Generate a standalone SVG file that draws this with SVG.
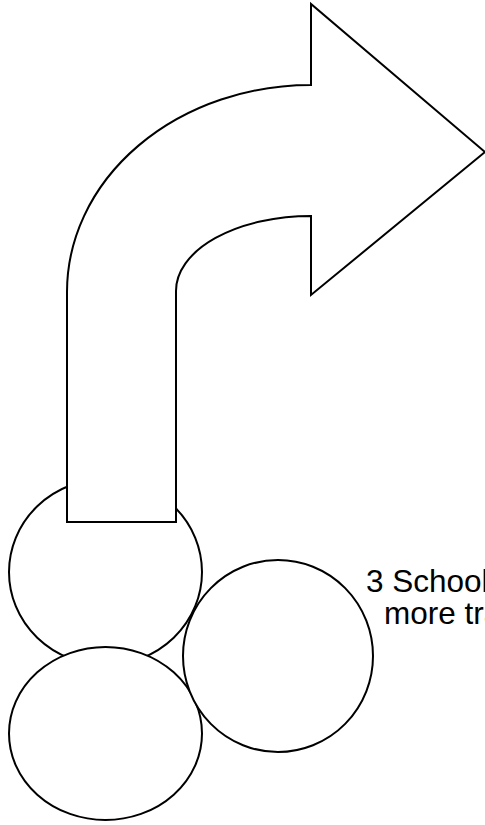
<svg xmlns="http://www.w3.org/2000/svg" width="485" height="825" viewBox="0 0 485 825">
<style>
.s{fill:#fff;stroke:#000;stroke-width:2}
.t{font-family:"Liberation Sans",Arial,sans-serif;font-size:31.5px;fill:#000}
</style>
<rect width="485" height="825" fill="#fff"/>
<g id="circle1"><ellipse class="s" cx="105.5" cy="572" rx="96.5" ry="93"/></g>
<g id="arrow"><path class="s" d="M67,522 L67,292 A244,207 0 0 1 311,85 L311,4 L485,152 L311,295 L311,216 A135,75 0 0 0 176,291 L176,522 Z"/></g>
<g id="circle2"><ellipse class="s" cx="105.5" cy="733.5" rx="96.5" ry="86.5"/></g>
<g id="circle3"><ellipse class="s" cx="278" cy="656" rx="95" ry="96"/></g>
<g id="label">
<text class="t" x="366" y="592">3 School</text>
<text class="t" x="384" y="624">more tra</text>
</g>
<g id="connectors"/>
</svg>
